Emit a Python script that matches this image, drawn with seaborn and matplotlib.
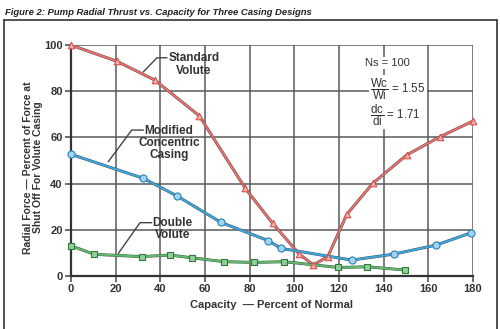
import matplotlib
matplotlib.use("Agg")
import matplotlib.pyplot as plt
import matplotlib.patheffects as pe
import seaborn as sns
import pandas as pd

# ---- data ----
std_x = [0, 20.5, 37.6, 57.5, 78, 90.3, 102.2, 108.5, 115, 123.5, 135.1, 150.3, 165, 180]
std_y = [100, 93, 84.8, 69.3, 38, 22.8, 9.5, 4.8, 8.4, 26.7, 40.1, 52.4, 60.2, 67.1]

mod_x = [0, 32.4, 47.6, 67.2, 88.4, 93.9, 125.7, 144.6, 163.5, 179.1]
mod_y = [52.7, 42.3, 34.6, 23.2, 15.3, 12.0, 6.9, 9.5, 13.4, 18.7]

dbl_x = [0, 10.4, 31.7, 44.3, 54, 68.7, 82, 95.5, 119.7, 132.7, 149.6]
dbl_y = [13.1, 9.4, 8.4, 9.1, 7.9, 6.2, 5.9, 6.2, 3.7, 4.0, 2.6]

x_ticks = [0, 20, 40, 60, 80, 100, 120, 140, 160, 180]
y_ticks = [0, 20, 40, 60, 80, 100]

title = "Figure 2: Pump Radial Thrust vs. Capacity for Three Casing Designs"
x_label = "Capacity  \u2014 Percent of Normal"
y_label = "Radial Force \u2014 Percent of Force at\nShut Off For Volute Casing"

sns.set_theme(style="white")
FONT = "Liberation Sans"
plt.rcParams["font.family"] = [FONT, "DejaVu Sans"]
plt.rcParams["mathtext.fontset"] = "custom"
plt.rcParams["mathtext.rm"] = FONT

fig = plt.figure(figsize=(5, 3.29), dpi=100)
ax = fig.add_axes([0.142, 0.161, 0.804, 0.702])

# grid
for xv in x_ticks:
    ax.axvline(xv, color="#5a5a5a", lw=1.1, zorder=1)
for yv in y_ticks:
    ax.axhline(yv, color="#5a5a5a", lw=1.1, zorder=1)

outline = [pe.Stroke(linewidth=2.1, foreground="#4a4a4a"), pe.Normal()]

series = [
    (std_x, std_y, "#ea6f6b", "^", "#f4b0ac", "#d9534f", 22),
    (mod_x, mod_y, "#3aa8e0", "o", "#9fd6f4", "#2a7fb5", 26),
    (dbl_x, dbl_y, "#5cbb68", "s", "#8fd098", "#2f7a38", 18),
]
for xs, ys, col, mk, fc, ec, ms in series:
    df = pd.DataFrame({"x": xs, "y": ys})
    sns.lineplot(data=df, x="x", y="y", ax=ax, color=col, lw=1.5,
                 path_effects=outline, zorder=3)
    sns.scatterplot(data=df, x="x", y="y", ax=ax, marker=mk, s=ms, color=fc,
                    edgecolor=ec, linewidth=0.8, zorder=4, clip_on=False)

ax.set_xlim(0, 180)
ax.set_ylim(0, 100)
ax.set_xticks(x_ticks)
ax.set_yticks(y_ticks)
ax.set_xticklabels([str(v) for v in x_ticks], fontsize=8, fontweight="bold", color="#333333")
ax.set_yticklabels([str(v) for v in y_ticks], fontsize=8, fontweight="bold", color="#333333")
ax.tick_params(axis="both", length=4, width=1.1, color="#444444", pad=2, direction="out")
ax.tick_params(axis="x", bottom=True)
ax.tick_params(axis="y", left=True)
for s in ax.spines.values():
    s.set_visible(False)
for side in ("left", "bottom"):
    ax.spines[side].set_visible(True)
    ax.spines[side].set_color("#333333")
    ax.spines[side].set_linewidth(1.6)

ax.set_xlabel(x_label, fontsize=8, fontweight="bold", color="#333333", labelpad=4)
ax.set_ylabel(y_label, fontsize=7.5, fontweight="bold", color="#333333",
              linespacing=1.0, ha="center", va="center")
ax.yaxis.set_label_coords(-0.094, 0.47)

# annotations
txt_kw = dict(fontsize=8.5, fontweight="bold", color="#333333", ha="center", va="center",
              linespacing=1.05, zorder=5)
ax.text(55, 91.6, "Standard\nVolute", **txt_kw)
ax.text(43.9, 57.6, "Modified\nConcentric\nCasing", **txt_kw)
ax.text(45.3, 20.3, "Double\nVolute", **txt_kw)
lead = dict(color="#444444", lw=1.0, zorder=5)
ax.plot([43.0, 38.5, 32.4], [94.5, 94.5, 88.4], **lead)
ax.plot([32.4, 27.2, 16.7], [63.2, 63.2, 49.5], **lead)
ax.plot([36.1, 30.9, 21.2], [23.1, 23.1, 9.8], **lead)

box = dict(facecolor="white", edgecolor="none", pad=1.0)
ax.text(141.5, 92.2, "Ns = 100", fontsize=8, color="#333333", ha="center", va="center", bbox=box)
ax.text(134.0, 81.0, r"$\dfrac{\mathrm{Wc}}{\mathrm{Wi}}$ = 1.55", fontsize=8.3, color="#333333",
        ha="left", va="center", bbox=box)
ax.text(134.0, 69.6, r"$\dfrac{\mathrm{dc}}{\mathrm{di}}$ = 1.71", fontsize=8.3, color="#333333",
        ha="left", va="center", bbox=box)

# outer frame and title
fig.add_artist(plt.Line2D([0.007, 0.007], [0.939, -0.05], color="#333333", lw=1.2))
fig.add_artist(plt.Line2D([0.994, 0.994], [0.939, -0.05], color="#333333", lw=1.2))
fig.add_artist(plt.Line2D([0.007, 0.994], [0.939, 0.939], color="#333333", lw=1.2))
fig.text(0.01, 0.963, title, fontsize=6.8, fontweight="bold", fontstyle="italic",
         color="#222222", ha="left", va="center")

fig.savefig("out.png", dpi=100)
